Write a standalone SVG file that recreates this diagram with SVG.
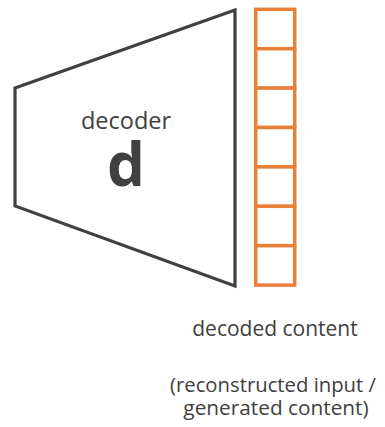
<svg xmlns="http://www.w3.org/2000/svg" width="385" height="427" viewBox="0 0 385 427">
  <style>
    .lbl { font-family: "Open Sans", "Liberation Sans", sans-serif; fill: #404040; }
    .cell { fill: #ffffff; stroke: #E8803A; stroke-width: 3.5; }
  </style>
  <rect width="385" height="427" fill="#ffffff"/>
  <g id="decoder">
    <polygon points="15,88 235,10 235,286 15,206" fill="#ffffff" stroke="#404040" stroke-width="3.2" stroke-linejoin="miter"/>
    <text class="lbl" x="126" y="129" font-size="23.5" text-anchor="middle">decoder</text>
    <text class="lbl" x="126" y="186" font-size="60" font-weight="bold" text-anchor="middle">d</text>
  </g>
  <g id="output">
    <rect class="cell" x="255.7" y="9.3" width="39" height="39.4"/>
    <rect class="cell" x="255.7" y="48.7" width="39" height="39.4"/>
    <rect class="cell" x="255.7" y="88.1" width="39" height="39.4"/>
    <rect class="cell" x="255.7" y="127.5" width="39" height="39.4"/>
    <rect class="cell" x="255.7" y="166.9" width="39" height="39.4"/>
    <rect class="cell" x="255.7" y="206.3" width="39" height="39.4"/>
    <rect class="cell" x="255.7" y="245.7" width="39" height="39.4"/>
    <text class="lbl" x="275" y="336" font-size="21" text-anchor="middle">decoded content</text>
    <text class="lbl" x="273" y="392" font-size="20.3" text-anchor="middle">(reconstructed input /</text>
    <text class="lbl" x="276" y="415" font-size="20.8" text-anchor="middle">generated content)</text>
  </g>
</svg>
